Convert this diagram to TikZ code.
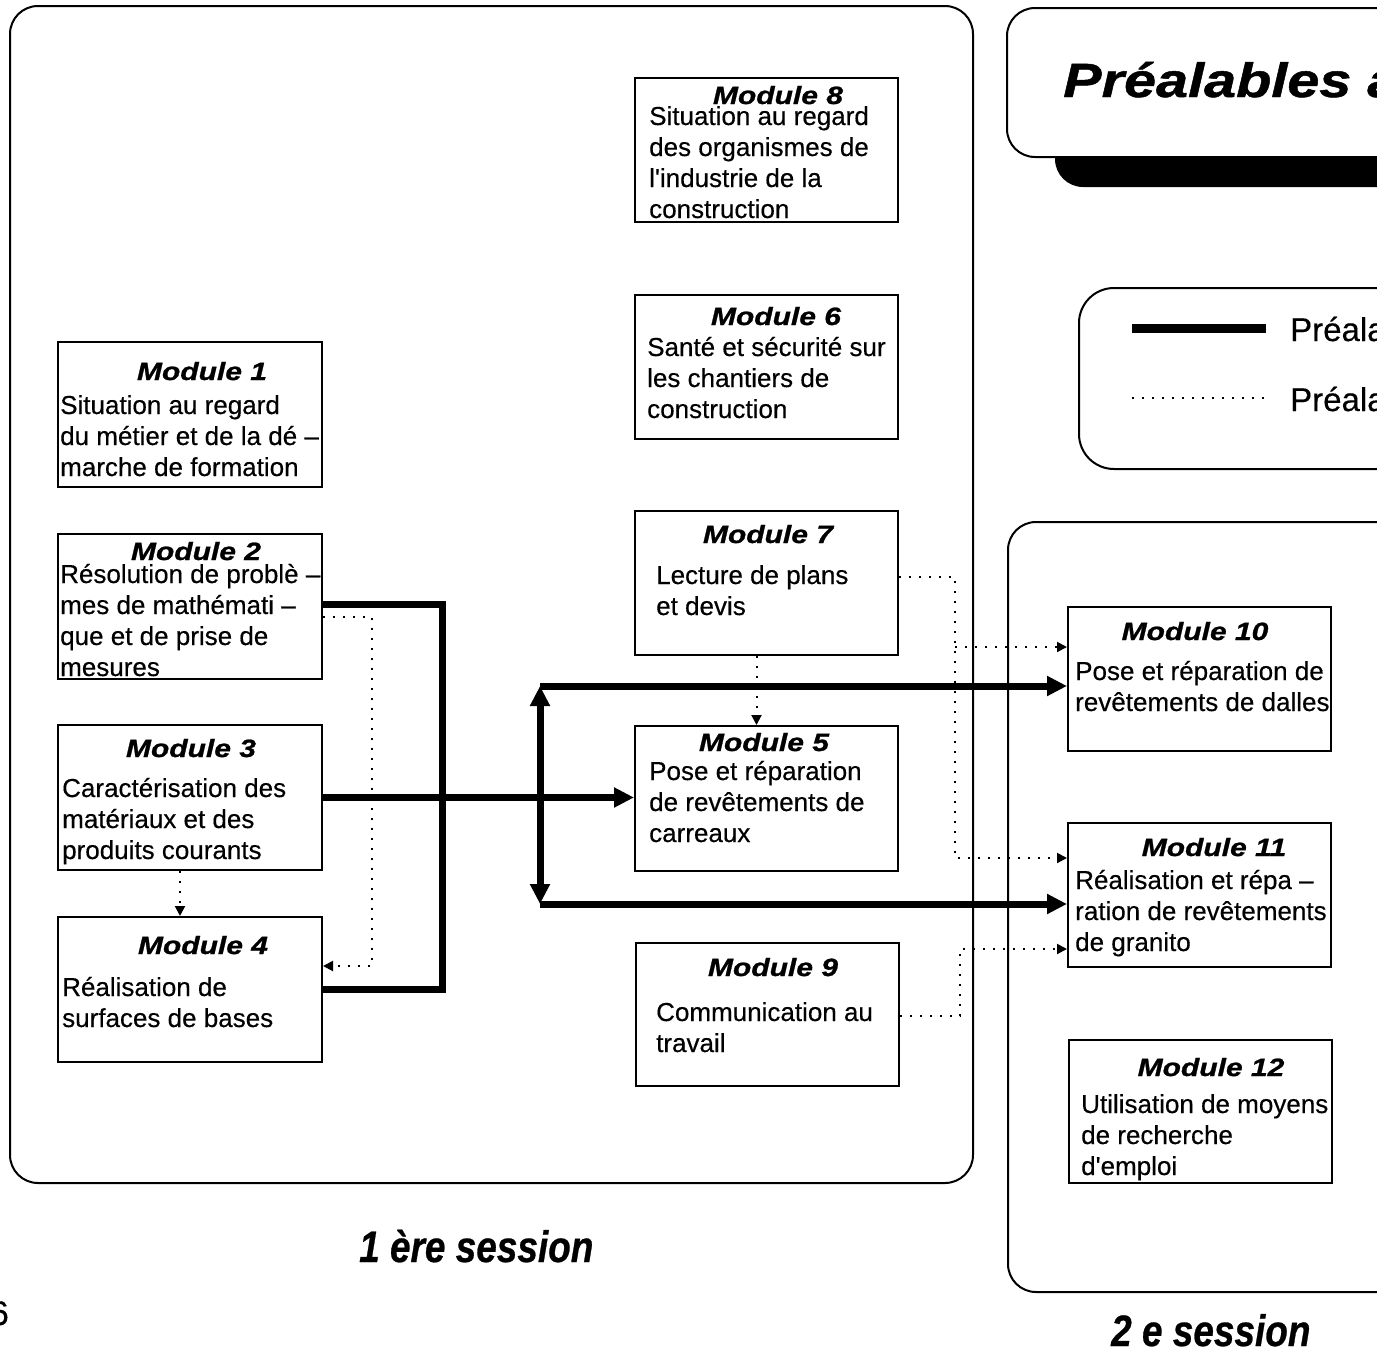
\documentclass[tikz,border=0pt]{standalone}
\usepackage{fontspec}
\setmainfont[FakeBold=0.4,Ligatures=TeXOff]{Liberation Sans}
\newfontfamily\modf[FakeStretch=1.2,FakeBold=1]{Liberation Sans}
\newfontfamily\sessf[FakeStretch=0.84,FakeBold=0.6]{Liberation Sans}
\usetikzlibrary{arrows.meta}
\newcommand\modrect[5]{\node[modbox, minimum width={#4-#2}, minimum height={#5-#3}] (#1) at ({(#2+#4)/2},{(#3+#5)/2}) {};}
\newcommand\modlines[4]{\foreach \t [count=\i from 0] in {#4} {\node[body] (#1l\i) at (#2,{#3+31*\i}) {\t};}}
\begin{document}
\begin{tikzpicture}[x=1pt,y=-1pt,
  frame/.style={draw, line width=2pt, rounded corners=28pt},
  modbox/.style={draw, line width=2pt, inner sep=0pt},
  body/.style={anchor=base west, inner sep=0pt, font=\fontsize{26}{30}\selectfont},
  mtitle/.style={anchor=base, inner sep=0pt, font=\modf\bfseries\itshape\fontsize{25}{30}\selectfont},
  thk/.style={line width=7pt, line join=miter},
  dotc/.style={line width=2pt, dash pattern=on 2pt off 8pt},
  bigtip/.style={-{Triangle[length=20pt,width=19pt]}},
  smalltip/.style={-{Triangle[length=10pt,width=10pt]}},
  sess/.style={anchor=base west, inner sep=0pt, font=\sessf\bfseries\itshape\fontsize{44}{50}\selectfont}
]
\useasboundingbox (0,0) rectangle (1377,1349);
\clip (0,0) rectangle (1377,1349);

% frames
\draw[frame] (10,6) rectangle (973,1183);
\draw[frame] (1008,522) rectangle (1440,1292);
\fill[rounded corners=28pt] (1055,40) rectangle (1460,187);
\draw[frame, fill=white] (1007,8) rectangle (1440,157);
\draw[frame, rounded corners=35pt] (1079,288) rectangle (1440,469);

% title and legend
\node[anchor=base west, inner sep=0pt, font=\modf\bfseries\itshape\fontsize{48}{55}\selectfont] (title) at (1063,97) {Préalables à};
\coordinate (lg1) at (1132,328); \coordinate (lg2) at (1266,328);
\coordinate (lg3) at (1132,398); \coordinate (lg4) at (1266,398);
\draw[line width=9pt] (lg1) -- (lg2);
\draw[line width=1.5pt, dash pattern=on 1.5pt off 8.5pt] (lg3) -- (lg4);
\node[anchor=base west, inner sep=0pt, font=\fontsize{33}{38}\selectfont] (leg1) at (1290,341) {Préalable fonctionnel};
\node[anchor=base west, inner sep=0pt, font=\fontsize{33}{38}\selectfont] (leg2) at (1290,411) {Préalable pédagogique};

% module boxes
\modrect{m1}{58}{342}{322}{487}
\modrect{m2}{58}{534}{322}{679}
\modrect{m3}{58}{725}{322}{870}
\modrect{m4}{58}{917}{322}{1062}
\modrect{m8}{635}{78}{898}{222}
\modrect{m6}{635}{295}{898}{439}
\modrect{m7}{635}{511}{898}{655}
\modrect{m5}{635}{726}{898}{871}
\modrect{m9}{636}{943}{899}{1086}
\modrect{m10}{1068}{607}{1331}{751}
\modrect{m11}{1068}{823}{1331}{967}
\modrect{m12}{1069}{1040}{1332}{1183}

% titles
\node[mtitle] (t1) at (202,380) {Module 1};
\node[mtitle] (t2) at (196,560) {Module 2};
\node[mtitle] (t3) at (191,757) {Module 3};
\node[mtitle] (t4) at (203,954) {Module 4};
\node[mtitle] (t8) at (778,104) {Module 8};
\node[mtitle] (t6) at (776,325) {Module 6};
\node[mtitle] (t7) at (768,543) {Module 7};
\node[mtitle] (t5) at (764,751) {Module 5};
\node[mtitle] (t9) at (773,976) {Module 9};
\node[mtitle] (t10) at (1195,640) {Module 10};
\node[mtitle] (t11) at (1214,856) {Module 11};
\node[mtitle] (t12) at (1211,1076) {Module 12};

% body texts
\modlines{b1}{60}{414}{Situation au regard, du métier et de la dé –, marche de formation}
\modlines{b2}{60}{583}{Résolution de problè –, mes de mathémati –, que et de prise de, mesures}
\modlines{b3}{62}{797}{Caractérisation des, matériaux et des, produits courants}
\modlines{b4}{62}{996}{Réalisation de, surfaces de bases}
\modlines{b8}{649}{125}{Situation au regard, des organismes de, l'industrie de la, construction}
\modlines{b6}{647}{356}{Santé et sécurité sur, les chantiers de, construction}
\modlines{b7}{656}{584}{Lecture de plans, et devis}
\modlines{b5}{649}{780}{Pose et réparation, de revêtements de, carreaux}
\modlines{b9}{656}{1021}{Communication au, travail}
\modlines{b10}{1075}{680}{Pose et réparation de, revêtements de dalles}
\modlines{b11}{1075}{889}{Réalisation et répa –, ration de revêtements, de granito}
\modlines{b12}{1081}{1113}{Utilisation de moyens, de recherche, d'emploi}

% thick connectors
\coordinate (j1) at (442,604);
\draw[thk] (m2.east |- j1) -- (j1) -- (j1 |- m4.east) -- (m4.east);
\draw[thk, bigtip] (m3.east) -- (m5.west |- m3.east);
\coordinate (ta) at (540,686);
\coordinate (tb) at (540,904);
\draw[thk, {Triangle[length=20pt,width=19pt]}-{Triangle[length=20pt,width=19pt]}] (ta) -- (tb);
\draw[thk, bigtip] (ta) -- (ta -| m10.west);
\draw[thk, bigtip] (tb) -- (tb -| m11.west);

% dotted connectors
\coordinate (p1) at (372,617); \coordinate (p2) at (372,966);
\draw[dotc, smalltip] (m2.east |- p1) -- (p1) -- (p2) -- (m4.east |- p2);
\draw[dotc, smalltip] ([xshift=-10pt]m3.south) -- ([xshift=-10pt]m4.north);
\draw[dotc, smalltip] ([xshift=-10pt]m7.south) -- ([xshift=-10pt]m5.north);
\coordinate (q1) at (955,577); \coordinate (q2) at (955,858); \coordinate (q3) at (955,647);
\draw[dotc, smalltip] (m7.east |- q1) -- (q1) -- (q2) -- (m11.west |- q2);
\draw[dotc, smalltip] (q3) -- (m10.west |- q3);
\coordinate (r1) at (960,1016); \coordinate (r2) at (960,949);
\draw[dotc, smalltip] (m9.east |- r1) -- (r1) -- (r2) -- (m11.west |- r2);

% session labels
\node[sess] (s1) at (359,1262) {1 ère session};
\node[sess] (s2) at (1111,1346) {2 e session};
\node[anchor=base east, inner sep=0pt, font=\fontsize{34}{40}\selectfont] (pg) at (9,1325) {6};
\end{tikzpicture}
\end{document}
